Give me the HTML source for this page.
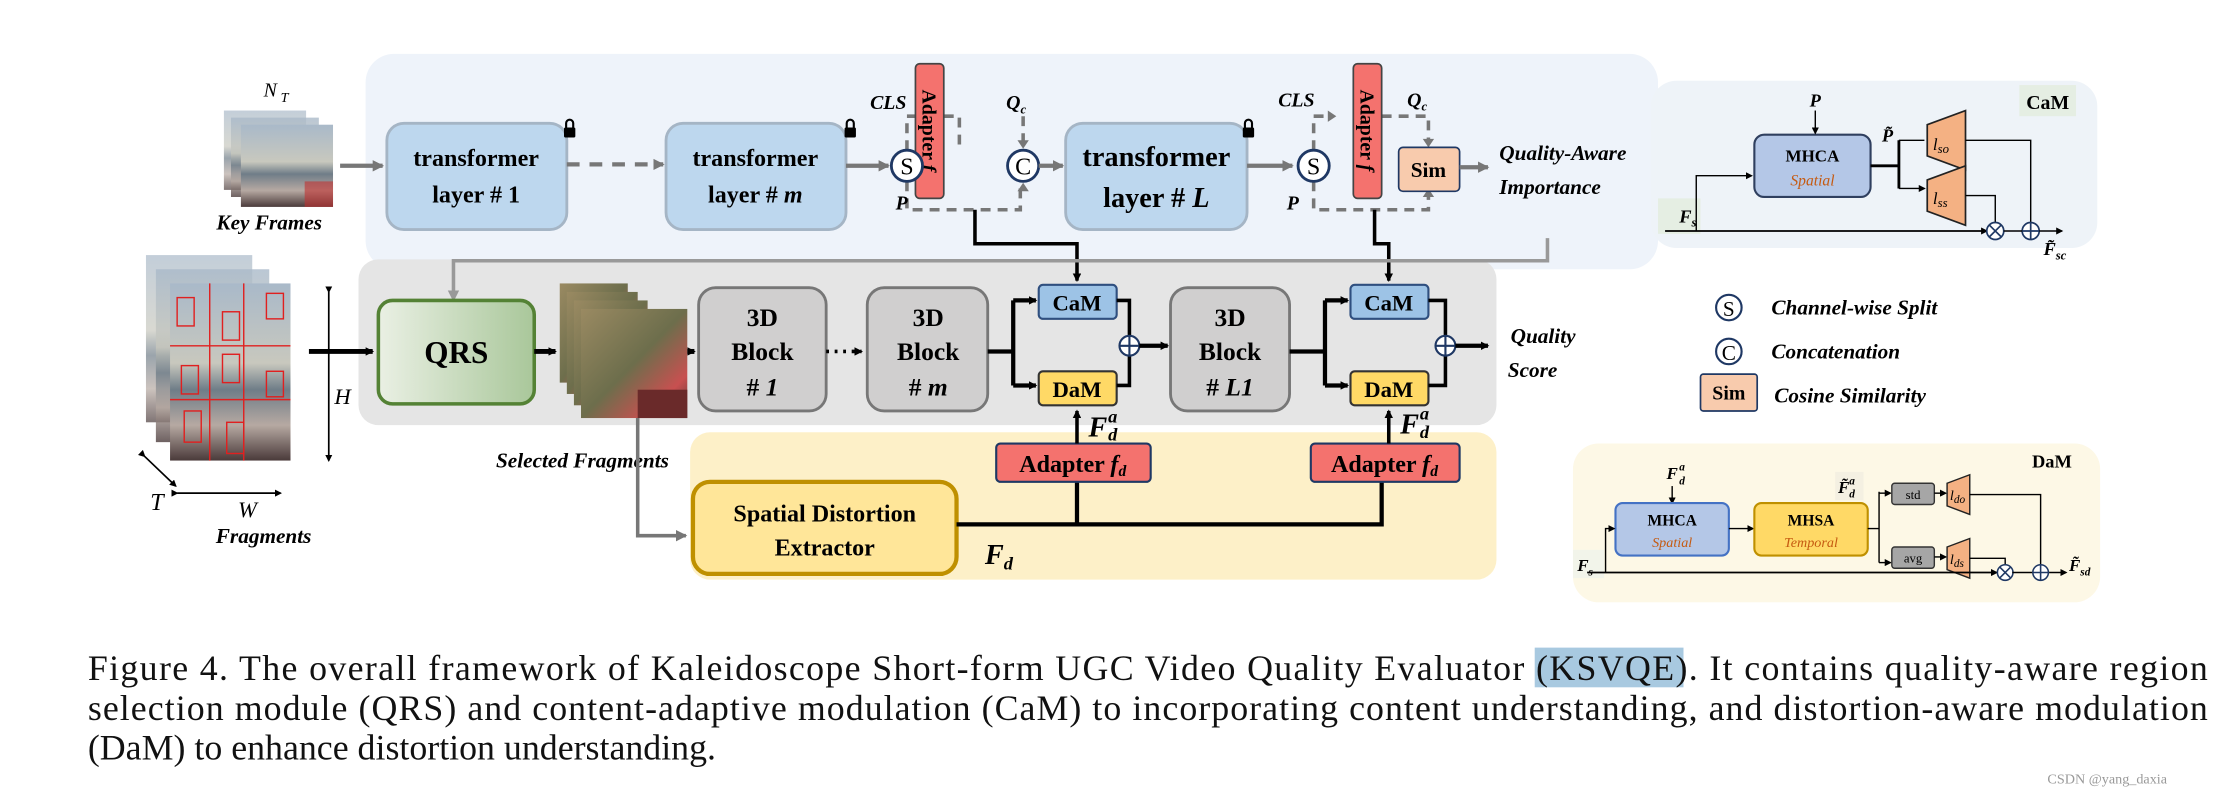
<!DOCTYPE html>
<html><head><meta charset="utf-8"><style>
html,body{margin:0;padding:0;background:#fff;}
svg{display:block;}
text{font-family:"Liberation Serif",serif;}
.b{font-weight:bold;}
.bi{font-weight:bold;font-style:italic;}
</style></head><body>
<svg width="2222" height="796" viewBox="0 0 1568 561.7" preserveAspectRatio="none" xmlns="http://www.w3.org/2000/svg" font-family="Liberation Serif, serif">
<defs>
<marker id="ab" markerWidth="6" markerHeight="6" refX="5" refY="3" orient="auto" markerUnits="userSpaceOnUse"><path d="M0,0L6,3L0,6z" fill="#000"/></marker>
<marker id="ag" markerWidth="8" markerHeight="8" refX="7" refY="4" orient="auto" markerUnits="userSpaceOnUse"><path d="M0,0L8,4L0,8z" fill="#777"/></marker>
<marker id="as" markerWidth="5" markerHeight="5" refX="4" refY="2.5" orient="auto" markerUnits="userSpaceOnUse"><path d="M0,0L5,2.5L0,5z" fill="#000"/></marker>
<linearGradient id="qrs" x1="0" x2="1"><stop offset="0" stop-color="#eaf0e4"/><stop offset="1" stop-color="#a9c79a"/></linearGradient>
<linearGradient id="ph" x1="0" y1="0" x2="0" y2="1"><stop offset="0" stop-color="#a9b9c9"/><stop offset="0.45" stop-color="#c8c8be"/><stop offset="0.6" stop-color="#6f7d88"/><stop offset="0.8" stop-color="#b6a9a2"/><stop offset="1" stop-color="#4a3a3a"/></linearGradient>
<linearGradient id="ph2" x1="0" y1="0" x2="1" y2="1"><stop offset="0" stop-color="#9a8a62"/><stop offset="0.5" stop-color="#6d6e4c"/><stop offset="0.8" stop-color="#c85050"/><stop offset="1" stop-color="#5a3a3a"/></linearGradient>
</defs>

<rect x="258" y="38" width="912" height="152" rx="20" fill="#eef3fa"/>
<rect x="253" y="183" width="803" height="117" rx="14" fill="#e5e5e5"/>
<rect x="487" y="305" width="569" height="104" rx="14" fill="#fdf0c8"/>

<rect x="158" y="78" width="58" height="56" fill="url(#ph)" opacity="0.7"/>
<rect x="163" y="83" width="62" height="56" fill="url(#ph)" opacity="0.8"/>
<rect x="170" y="88" width="65" height="58" fill="url(#ph)"/>
<rect x="215" y="128" width="20" height="18" fill="#c03030" opacity="0.6"/>
<text x="186" y="68" font-size="14" font-style="italic">N</text><text x="198" y="72" font-size="10" font-style="italic">T</text>
<text x="190" y="162" font-size="15" class="bi" text-anchor="middle">Key Frames</text>
<line x1="240" y1="117" x2="270" y2="117" stroke="#777" stroke-width="3" marker-end="url(#ag)"/>

<rect x="273" y="87" width="127" height="75" rx="12" fill="#bdd7ee" stroke="#a5b5c5" stroke-width="2"/>
<text x="336" y="117" font-size="17" class="b" text-anchor="middle">transformer</text>
<text x="336" y="143" font-size="17" class="b" text-anchor="middle">layer # 1</text>
<line x1="400" y1="116" x2="468" y2="116" stroke="#777" stroke-width="3" stroke-dasharray="9,7" marker-end="url(#ag)"/>
<rect x="470" y="87" width="127" height="75" rx="12" fill="#bdd7ee" stroke="#a5b5c5" stroke-width="2"/>
<text x="533" y="117" font-size="17" class="b" text-anchor="middle">transformer</text>
<text x="533" y="143" font-size="17" class="b" text-anchor="middle">layer # <tspan font-style="italic">m</tspan></text>
<rect x="752" y="87" width="128" height="75" rx="12" fill="#bdd7ee" stroke="#a5b5c5" stroke-width="2"/>
<text x="816" y="117" font-size="20" class="b" text-anchor="middle">transformer</text>
<text x="816" y="146" font-size="20" class="b" text-anchor="middle">layer # <tspan font-style="italic">L</tspan></text>
<g fill="#000">
<rect x="398" y="90" width="8" height="7" rx="1"/><path d="M399.5,90v-3a2.5,2.5 0 0 1 5,0v3" fill="none" stroke="#000" stroke-width="1.5"/>
<rect x="596" y="90" width="8" height="7" rx="1"/><path d="M597.5,90v-3a2.5,2.5 0 0 1 5,0v3" fill="none" stroke="#000" stroke-width="1.5"/>
<rect x="877" y="90" width="8" height="7" rx="1"/><path d="M878.5,90v-3a2.5,2.5 0 0 1 5,0v3" fill="none" stroke="#000" stroke-width="1.5"/>
<rect x="637" y="345" width="8" height="7" rx="1"/><path d="M638.5,345v-3a2.5,2.5 0 0 1 5,0v3" fill="none" stroke="#000" stroke-width="1.5"/>
</g>

<line x1="597" y1="117" x2="627" y2="117" stroke="#777" stroke-width="3" marker-end="url(#ag)"/>
<path d="M640,106V82H652" fill="none" stroke="#777" stroke-width="2.5" stroke-dasharray="7,5"/>
<path d="M649,78l6,4l-6,4z" fill="#777"/>
<path d="M666,82H677V106" fill="none" stroke="#777" stroke-width="2.5" stroke-dasharray="7,5"/>
<path d="M640,128V148H720V131" fill="none" stroke="#777" stroke-width="2.5" stroke-dasharray="7,5"/>
<rect x="646" y="45" width="20" height="95" rx="3" fill="#f4726e" stroke="#444" stroke-width="1.2"/>
<text transform="translate(651,92) rotate(90)" font-size="14" class="b" text-anchor="middle">Adapter <tspan font-style="italic">f</tspan></text>
<circle cx="640" cy="117" r="11" fill="#fff" stroke="#1f3864" stroke-width="2"/>
<text x="640" y="123" font-size="17" text-anchor="middle">S</text>
<circle cx="722" cy="117" r="11" fill="#fff" stroke="#1f3864" stroke-width="2"/>
<text x="722" y="123" font-size="17" text-anchor="middle">C</text>
<line x1="733" y1="117" x2="750" y2="117" stroke="#777" stroke-width="3" marker-end="url(#ag)"/>
<line x1="722" y1="82" x2="722" y2="104" stroke="#777" stroke-width="2.5" stroke-dasharray="7,5"/>
<path d="M718,99l4,6l4,-6z" fill="#777"/><path d="M718,135l4,-6l4,6z" fill="#777"/>
<text x="614" y="77" font-size="14" class="bi">CLS</text>
<text x="710" y="77" font-size="14" class="bi">Q<tspan font-size="9" dy="3">c</tspan></text>
<text x="632" y="148" font-size="14" class="bi">P</text>

<line x1="880" y1="117" x2="912" y2="117" stroke="#777" stroke-width="3" marker-end="url(#ag)"/>
<path d="M927,106V82H940" fill="none" stroke="#777" stroke-width="2.5" stroke-dasharray="7,5"/>
<path d="M937,78l6,4l-6,4z" fill="#777"/>
<path d="M975,82H1008V100" fill="none" stroke="#777" stroke-width="2.5" stroke-dasharray="7,5"/>
<path d="M1004,98l4,6l4,-6z" fill="#777"/>
<path d="M927,128V148H1008V137" fill="none" stroke="#777" stroke-width="2.5" stroke-dasharray="7,5"/>
<path d="M1004,139l4,-6l4,6z" fill="#777"/>
<rect x="955" y="45" width="20" height="95" rx="3" fill="#f4726e" stroke="#444" stroke-width="1.2"/>
<text transform="translate(960,92) rotate(90)" font-size="14" class="b" text-anchor="middle">Adapter <tspan font-style="italic">f</tspan></text>
<circle cx="927" cy="117" r="11" fill="#fff" stroke="#1f3864" stroke-width="2"/>
<text x="927" y="123" font-size="17" text-anchor="middle">S</text>
<rect x="987" y="104" width="43" height="31" rx="3" fill="#f8cbad" stroke="#1f3864" stroke-width="1.2"/>
<text x="1008" y="125" font-size="15" class="b" text-anchor="middle">Sim</text>
<line x1="1030" y1="118" x2="1050" y2="118" stroke="#777" stroke-width="3" marker-end="url(#ag)"/>
<text x="902" y="75" font-size="14" class="bi">CLS</text>
<text x="993" y="75" font-size="14" class="bi">Q<tspan font-size="9" dy="3">c</tspan></text>
<text x="908" y="148" font-size="14" class="bi">P</text>
<text x="1058" y="113" font-size="15" class="bi">Quality-Aware</text>
<text x="1058" y="137" font-size="15" class="bi">Importance</text>

<path d="M688,148V172H760V198" fill="none" stroke="#000" stroke-width="2.5" marker-end="url(#ab)"/>
<path d="M970,148V172H980V198" fill="none" stroke="#000" stroke-width="2.5" marker-end="url(#ab)"/>
<path d="M1092,168V184H320V208" fill="none" stroke="#999" stroke-width="2.5"/>
<path d="M316,205l4,8l4,-8z" fill="#999"/>

<rect x="103" y="180" width="75" height="118" fill="url(#ph)" opacity="0.7"/>
<rect x="110" y="190" width="80" height="122" fill="url(#ph)" opacity="0.8"/>
<rect x="120" y="200" width="85" height="125" fill="url(#ph)"/>
<g fill="none" stroke="#e02020" stroke-width="1">
<line x1="120" y1="244" x2="205" y2="244"/><line x1="120" y1="282" x2="205" y2="282"/>
<line x1="148" y1="200" x2="148" y2="325"/><line x1="172" y1="200" x2="172" y2="325"/>
<rect x="125" y="210" width="12" height="20"/><rect x="157" y="220" width="12" height="20"/><rect x="188" y="207" width="12" height="18"/>
<rect x="128" y="258" width="12" height="20"/><rect x="157" y="250" width="12" height="20"/><rect x="188" y="262" width="12" height="18"/>
<rect x="130" y="290" width="12" height="22"/><rect x="160" y="298" width="12" height="22"/>
</g>
<line x1="232" y1="206" x2="232" y2="325" stroke="#000" stroke-width="1.2" marker-end="url(#as)" marker-start="url(#as)"/>
<text x="236" y="285" font-size="16" font-style="italic">H</text>
<line x1="102" y1="322" x2="124" y2="343" stroke="#000" stroke-width="1.2" marker-end="url(#as)" marker-start="url(#as)"/>
<line x1="125" y1="348" x2="198" y2="348" stroke="#000" stroke-width="1.2" marker-end="url(#as)" marker-start="url(#as)"/>
<text x="106" y="360" font-size="17" font-style="italic">T</text>
<text x="168" y="365" font-size="16" font-style="italic">W</text>
<text x="186" y="383" font-size="15" class="bi" text-anchor="middle">Fragments</text>
<line x1="218" y1="248" x2="263" y2="248" stroke="#000" stroke-width="3.5" marker-end="url(#ab)"/>

<rect x="267" y="212" width="110" height="73" rx="10" fill="url(#qrs)" stroke="#548235" stroke-width="2.5"/>
<text x="322" y="256" font-size="22" class="b" text-anchor="middle">QRS</text>
<line x1="377" y1="248" x2="392" y2="248" stroke="#000" stroke-width="3.5" marker-end="url(#ab)"/>
<rect x="395" y="200" width="48" height="70" fill="url(#ph2)"/>
<rect x="400" y="206" width="50" height="72" fill="url(#ph2)"/>
<rect x="405" y="212" width="52" height="74" fill="url(#ph2)"/>
<rect x="410" y="218" width="75" height="77" fill="url(#ph2)"/>
<rect x="450" y="275" width="35" height="20" fill="#6a2a2a"/>
<text x="350" y="330" font-size="15" class="bi">Selected Fragments</text>
<line x1="485" y1="248" x2="490" y2="248" stroke="#000" stroke-width="3.5" marker-end="url(#ab)"/>

<g fill="#d0cfcf" stroke="#777" stroke-width="2">
<rect x="493" y="203" width="90" height="87" rx="12"/>
<rect x="612" y="203" width="85" height="87" rx="12"/>
<rect x="826" y="203" width="84" height="87" rx="12"/>
</g>
<g font-size="18" class="b" text-anchor="middle">
<text x="538" y="230">3D</text><text x="538" y="254">Block</text><text x="538" y="279">#<tspan font-style="italic"> 1</tspan></text>
<text x="655" y="230">3D</text><text x="655" y="254">Block</text><text x="655" y="279"># <tspan font-style="italic">m</tspan></text>
<text x="868" y="230">3D</text><text x="868" y="254">Block</text><text x="868" y="279"># <tspan font-style="italic">L1</tspan></text>
</g>
<line x1="583" y1="248" x2="608" y2="248" stroke="#000" stroke-width="2.5" stroke-dasharray="2,4" marker-end="url(#ab)"/>

<path d="M697,248H715M715,212V272" fill="none" stroke="#000" stroke-width="3"/>
<line x1="715" y1="212" x2="731" y2="212" stroke="#000" stroke-width="3" marker-end="url(#ab)"/>
<line x1="715" y1="272" x2="731" y2="272" stroke="#000" stroke-width="3" marker-end="url(#ab)"/>
<rect x="733" y="201" width="55" height="24" rx="3" fill="#9dc3e6" stroke="#2f4f7f" stroke-width="1.5"/>
<text x="760" y="219" font-size="16" class="b" text-anchor="middle">CaM</text>
<rect x="733" y="262" width="55" height="24" rx="3" fill="#ffd966" stroke="#333" stroke-width="1.5"/>
<text x="760" y="280" font-size="16" class="b" text-anchor="middle">DaM</text>
<path d="M788,212H797V237M788,272H797V251" fill="none" stroke="#000" stroke-width="2.5"/>
<circle cx="797" cy="244" r="7" fill="#fff" stroke="#1f3864" stroke-width="1.5"/>
<path d="M790,244h14M797,237v14" stroke="#1f3864" stroke-width="1.5"/>
<line x1="804" y1="244" x2="824" y2="244" stroke="#000" stroke-width="3" marker-end="url(#ab)"/>

<path d="M910,248H935M935,212V272" fill="none" stroke="#000" stroke-width="3"/>
<line x1="935" y1="212" x2="951" y2="212" stroke="#000" stroke-width="3" marker-end="url(#ab)"/>
<line x1="935" y1="272" x2="951" y2="272" stroke="#000" stroke-width="3" marker-end="url(#ab)"/>
<rect x="953" y="201" width="55" height="24" rx="3" fill="#9dc3e6" stroke="#2f4f7f" stroke-width="1.5"/>
<text x="980" y="219" font-size="16" class="b" text-anchor="middle">CaM</text>
<rect x="953" y="262" width="55" height="24" rx="3" fill="#ffd966" stroke="#333" stroke-width="1.5"/>
<text x="980" y="280" font-size="16" class="b" text-anchor="middle">DaM</text>
<path d="M1008,212H1020V237M1008,272H1020V251" fill="none" stroke="#000" stroke-width="2.5"/>
<circle cx="1020" cy="244" r="7" fill="#fff" stroke="#1f3864" stroke-width="1.5"/>
<path d="M1013,244h14M1020,237v14" stroke="#1f3864" stroke-width="1.5"/>
<line x1="1027" y1="244" x2="1050" y2="244" stroke="#000" stroke-width="3" marker-end="url(#ab)"/>
<text x="1066" y="242" font-size="15" class="bi">Quality</text>
<text x="1064" y="266" font-size="15" class="bi">Score</text>

<path d="M450,295V378H484" fill="none" stroke="#777" stroke-width="2.5" marker-end="url(#ag)"/>
<rect x="489" y="340" width="186" height="65" rx="12" fill="#ffe699" stroke="#bf9000" stroke-width="3"/>
<text x="582" y="368" font-size="17" class="b" text-anchor="middle">Spatial Distortion</text>
<text x="582" y="392" font-size="17" class="b" text-anchor="middle">Extractor</text>
<path d="M675,370H975V340M760,370V340" fill="none" stroke="#000" stroke-width="3"/>
<rect x="703" y="313" width="109" height="27" rx="3" fill="#f4726e" stroke="#1f3864" stroke-width="1.5"/>
<text x="757" y="333" font-size="17" class="b" text-anchor="middle">Adapter <tspan font-style="italic">f<tspan font-size="11" dy="3">d</tspan></tspan></text>
<rect x="925" y="313" width="105" height="27" rx="3" fill="#f4726e" stroke="#1f3864" stroke-width="1.5"/>
<text x="977" y="333" font-size="17" class="b" text-anchor="middle">Adapter <tspan font-style="italic">f<tspan font-size="11" dy="3">d</tspan></tspan></text>
<line x1="760" y1="313" x2="760" y2="290" stroke="#000" stroke-width="2.5" marker-end="url(#ab)"/>
<line x1="980" y1="313" x2="980" y2="290" stroke="#000" stroke-width="2.5" marker-end="url(#ab)"/>
<text x="768" y="308" font-size="20" class="bi">F</text><text x="782" y="298" font-size="13" class="bi">a</text><text x="782" y="311" font-size="13" class="bi">d</text>
<text x="988" y="306" font-size="20" class="bi">F</text><text x="1002" y="296" font-size="13" class="bi">a</text><text x="1002" y="309" font-size="13" class="bi">d</text>
<text x="695" y="398" font-size="20" class="bi">F<tspan font-size="13" dy="4">d</tspan></text>

<rect x="1165" y="57" width="315" height="118" rx="18" fill="#eef3f8"/>
<rect x="1425" y="60" width="40" height="22" fill="#e5eee3"/>
<text x="1445" y="77" font-size="14" class="b" text-anchor="middle">CaM</text>
<rect x="1238" y="95" width="82" height="44" rx="7" fill="#b4c7e7" stroke="#2f3f5f" stroke-width="1.5"/>
<text x="1279" y="114" font-size="12" class="b" text-anchor="middle">MHCA</text>
<text x="1279" y="131" font-size="11" font-style="italic" fill="#c55a11" text-anchor="middle">Spatial</text>
<text x="1277" y="75" font-size="13" class="bi">P</text>
<line x1="1281" y1="78" x2="1281" y2="94" stroke="#000" stroke-width="1" marker-end="url(#as)"/>
<text x="1328" y="100" font-size="13" class="bi">P̃</text>
<path d="M1320,117H1340M1340,99V133" fill="none" stroke="#000" stroke-width="2"/>
<path d="M1340,99H1358M1340,133H1358" stroke="#000" stroke-width="1" marker-end="url(#as)"/>
<path d="M1360,88L1387,78V120L1360,110z" fill="#f4b183" stroke="#222" stroke-width="1.2"/>
<path d="M1360,127L1387,117V159L1360,149z" fill="#f4b183" stroke="#222" stroke-width="1.2"/>
<text x="1364" y="106" font-size="12" font-style="italic">l<tspan font-size="9" dy="2">so</tspan></text>
<text x="1364" y="144" font-size="12" font-style="italic">l<tspan font-size="9" dy="2">ss</tspan></text>
<path d="M1387,99H1433V157M1387,138H1408V157" fill="none" stroke="#000" stroke-width="1"/>
<rect x="1170" y="140" width="30" height="25" fill="#e5eee3"/>
<text x="1185" y="157" font-size="13" class="bi">F<tspan font-size="9" dy="3">s</tspan></text>
<path d="M1197,163V124H1236" fill="none" stroke="#000" stroke-width="1" marker-end="url(#as)"/>
<line x1="1175" y1="163" x2="1402" y2="163" stroke="#000" stroke-width="1.2" marker-end="url(#as)"/>
<circle cx="1408" cy="163" r="6" fill="#fff" stroke="#1f3864" stroke-width="1.2"/><path d="M1404,159l8,8M1412,159l-8,8" stroke="#1f3864" stroke-width="1.2"/>
<circle cx="1433" cy="163" r="6" fill="#fff" stroke="#1f3864" stroke-width="1.2"/><path d="M1427,163h12M1433,157v12" stroke="#1f3864" stroke-width="1.2"/>
<line x1="1414" y1="163" x2="1427" y2="163" stroke="#000" stroke-width="1"/>
<line x1="1439" y1="163" x2="1455" y2="163" stroke="#000" stroke-width="1" marker-end="url(#as)"/>
<text x="1442" y="180" font-size="13" class="bi">F̃<tspan font-size="9" dy="3">sc</tspan></text>

<circle cx="1220" cy="217" r="9" fill="#fff" stroke="#1f3864" stroke-width="1.5"/>
<text x="1220" y="223" font-size="15" text-anchor="middle">S</text>
<text x="1250" y="222" font-size="15" class="bi">Channel-wise Split</text>
<circle cx="1220" cy="248" r="9" fill="#fff" stroke="#1f3864" stroke-width="1.5"/>
<text x="1220" y="254" font-size="15" text-anchor="middle">C</text>
<text x="1250" y="253" font-size="15" class="bi">Concatenation</text>
<rect x="1200" y="264" width="40" height="26" rx="2" fill="#f8cbad" stroke="#1f3864" stroke-width="1.2"/>
<text x="1220" y="282" font-size="14" class="b" text-anchor="middle">Sim</text>
<text x="1252" y="284" font-size="15" class="bi">Cosine Similarity</text>

<rect x="1110" y="313" width="372" height="112" rx="18" fill="#fdf8e6"/>
<text x="1448" y="330" font-size="13" class="b" text-anchor="middle">DaM</text>
<text x="1176" y="338" font-size="12" class="bi">F</text><text x="1185" y="332" font-size="8" class="bi">a</text><text x="1185" y="342" font-size="8" class="bi">d</text>
<line x1="1180" y1="343" x2="1180" y2="355" stroke="#000" stroke-width="1" marker-end="url(#as)"/>
<rect x="1140" y="355" width="80" height="37" rx="5" fill="#b4c7e7" stroke="#4472c4" stroke-width="1.5"/>
<text x="1180" y="371" font-size="11" class="b" text-anchor="middle">MHCA</text>
<text x="1180" y="386" font-size="10" font-style="italic" fill="#c55a11" text-anchor="middle">Spatial</text>
<line x1="1220" y1="373" x2="1237" y2="373" stroke="#000" stroke-width="1" marker-end="url(#as)"/>
<rect x="1238" y="355" width="80" height="37" rx="5" fill="#ffd966" stroke="#bf9000" stroke-width="1.5"/>
<text x="1278" y="371" font-size="11" class="b" text-anchor="middle">MHSA</text>
<text x="1278" y="386" font-size="10" font-style="italic" fill="#c55a11" text-anchor="middle">Temporal</text>
<rect x="1295" y="333" width="20" height="20" fill="#f4f0e2"/>
<text x="1297" y="348" font-size="12" class="bi">F̃</text><text x="1305" y="342" font-size="8" class="bi">a</text><text x="1305" y="351" font-size="8" class="bi">d</text>
<path d="M1318,373H1326M1326,347V397" fill="none" stroke="#000" stroke-width="1"/>
<line x1="1326" y1="348" x2="1334" y2="348" stroke="#000" stroke-width="1" marker-end="url(#as)"/>
<line x1="1326" y1="397" x2="1334" y2="397" stroke="#000" stroke-width="1" marker-end="url(#as)"/>
<rect x="1335" y="341" width="30" height="15" rx="2" fill="#a6a6a6" stroke="#333" stroke-width="1"/>
<text x="1350" y="352" font-size="9" text-anchor="middle">std</text>
<rect x="1335" y="386" width="30" height="15" rx="2" fill="#a6a6a6" stroke="#333" stroke-width="1"/>
<text x="1350" y="397" font-size="9" text-anchor="middle">avg</text>
<line x1="1365" y1="348" x2="1373" y2="348" stroke="#000" stroke-width="1" marker-end="url(#as)"/>
<line x1="1365" y1="393" x2="1373" y2="393" stroke="#000" stroke-width="1" marker-end="url(#as)"/>
<path d="M1374,341L1390,335V363L1374,357z" fill="#f4b183" stroke="#222" stroke-width="1"/>
<path d="M1374,386L1390,380V408L1374,402z" fill="#f4b183" stroke="#222" stroke-width="1"/>
<text x="1376" y="353" font-size="10" font-style="italic">l<tspan font-size="8" dy="2">do</tspan></text>
<text x="1376" y="398" font-size="10" font-style="italic">l<tspan font-size="8" dy="2">ds</tspan></text>
<path d="M1390,349H1440V398M1390,394H1415V398" fill="none" stroke="#000" stroke-width="1"/>
<rect x="1110" y="388" width="22" height="20" fill="#f2f4ea"/>
<text x="1113" y="403" font-size="12" class="bi">F<tspan font-size="8" dy="3">s</tspan></text>
<path d="M1133,404V373H1139" fill="none" stroke="#000" stroke-width="1" marker-end="url(#as)"/>
<line x1="1120" y1="404" x2="1409" y2="404" stroke="#000" stroke-width="1.2" marker-end="url(#as)"/>
<circle cx="1415" cy="404" r="5.5" fill="#fff" stroke="#1f3864" stroke-width="1.1"/><path d="M1411,400l8,8M1419,400l-8,8" stroke="#1f3864" stroke-width="1.1"/>
<circle cx="1440" cy="404" r="5.5" fill="#fff" stroke="#1f3864" stroke-width="1.1"/><path d="M1434.5,404h11M1440,398.5v11" stroke="#1f3864" stroke-width="1.1"/>
<line x1="1420" y1="404" x2="1434" y2="404" stroke="#000" stroke-width="1"/>
<line x1="1446" y1="404" x2="1458" y2="404" stroke="#000" stroke-width="1" marker-end="url(#as)"/>
<text x="1460" y="403" font-size="12" class="bi">F̃<tspan font-size="8" dy="3">sd</tspan></text>

<rect x="1083" y="457" width="105" height="28" fill="#a8c9e0"/>
<g font-size="25.3" fill="#111">
<text x="62" y="480" textLength="1496" lengthAdjust="spacing">Figure 4.  The overall framework of Kaleidoscope Short-form UGC Video Quality Evaluator (KSVQE). It contains quality-aware region</text>
<text x="62" y="508" textLength="1496" lengthAdjust="spacing">selection module (QRS) and content-adaptive modulation (CaM) to incorporating content understanding, and distortion-aware modulation</text>
<text x="62" y="536">(DaM) to enhance distortion understanding.</text>
</g>
<text x="1487" y="553" font-size="10" fill="#999" font-family="Liberation Sans, sans-serif" text-anchor="middle">CSDN @yang_daxia</text>
</svg>
</body></html>
